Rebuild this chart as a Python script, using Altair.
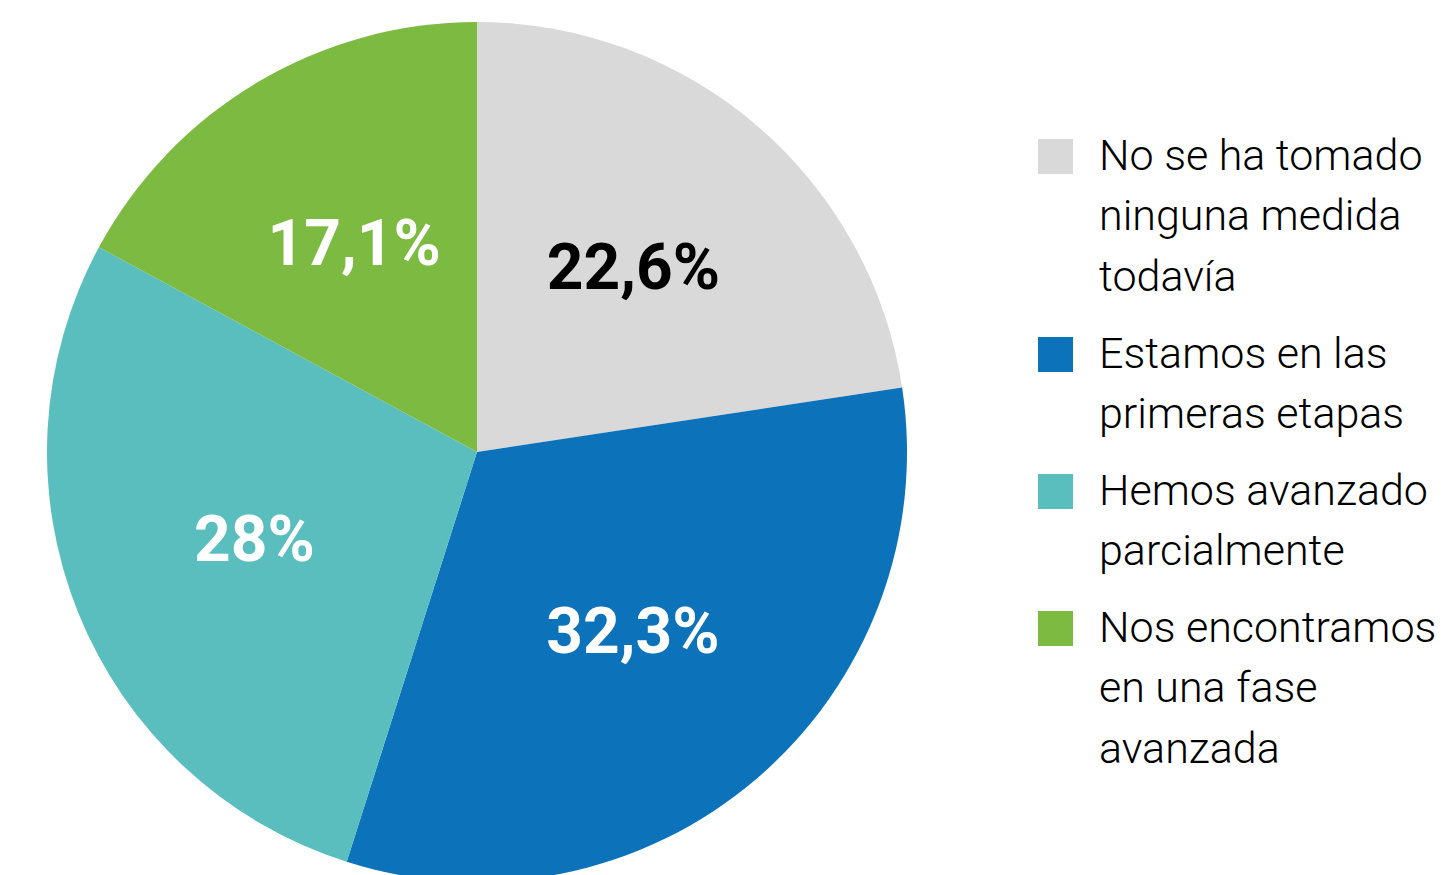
import altair as alt
import pandas as pd

categories = [
    "No se ha tomado\nninguna medida\ntodavía",
    "Estamos en las\nprimeras etapas",
    "Hemos avanzado\nparcialmente",
    "Nos encontramos\nen una fase\navanzada",
]
values = [22.6, 32.3, 28.0, 17.1]
labels = ["22,6%", "32,3%", "28%", "17,1%"]
colors = ["#D9D9D9", "#0C72BA", "#5ABEBE", "#7DBA41"]

df = pd.DataFrame({
    "categoria": categories,
    "valor": values,
    "etiqueta": labels,
    "orden": list(range(len(categories))),
})

base = alt.Chart(df).encode(
    theta=alt.Theta("valor:Q", stack=True),
    order=alt.Order("orden:Q", sort="ascending"),
)

pie = base.mark_arc(outerRadius=430, stroke=None).encode(
    x=alt.value(469),
    y=alt.value(444),
    color=alt.Color(
        "categoria:N",
        scale=alt.Scale(domain=categories, range=colors),
        sort=categories,
        legend=alt.Legend(
            title=None,
            orient="none",
            legendX=1026,
            legendY=127,
            symbolType="square",
            symbolSize=1225,
            symbolStrokeWidth=0,
            labelFont="Roboto",
            labelFontSize=43,
            labelFontWeight=300,
            labelColor="#000000",
            labelOffset=22,
            labelLimit=600,
            labelBaseline="middle",
            labelExpr="split(datum.label, '\\n')",
            rowPadding=33,
            padding=0,
        ),
    ),
)

text = base.mark_text(
    radius=240, font="Roboto", fontSize=64, fontWeight="bold"
).encode(
    x=alt.value(469),
    y=alt.value(444),
    text="etiqueta:N",
    color=alt.condition(
        alt.datum.etiqueta == "22,6%", alt.value("#000000"), alt.value("#FFFFFF")
    ),
)

chart = (
    alt.layer(pie, text)
    .properties(width=1430, height=880, padding=0, autosize=alt.AutoSizeParams(type="none"))
    .configure(style={"guide-label": {"lineHeight": 60.5}})
    .configure_view(stroke=None)
)

chart.save("out.html", embed_options={"renderer": "svg", "actions": False})
